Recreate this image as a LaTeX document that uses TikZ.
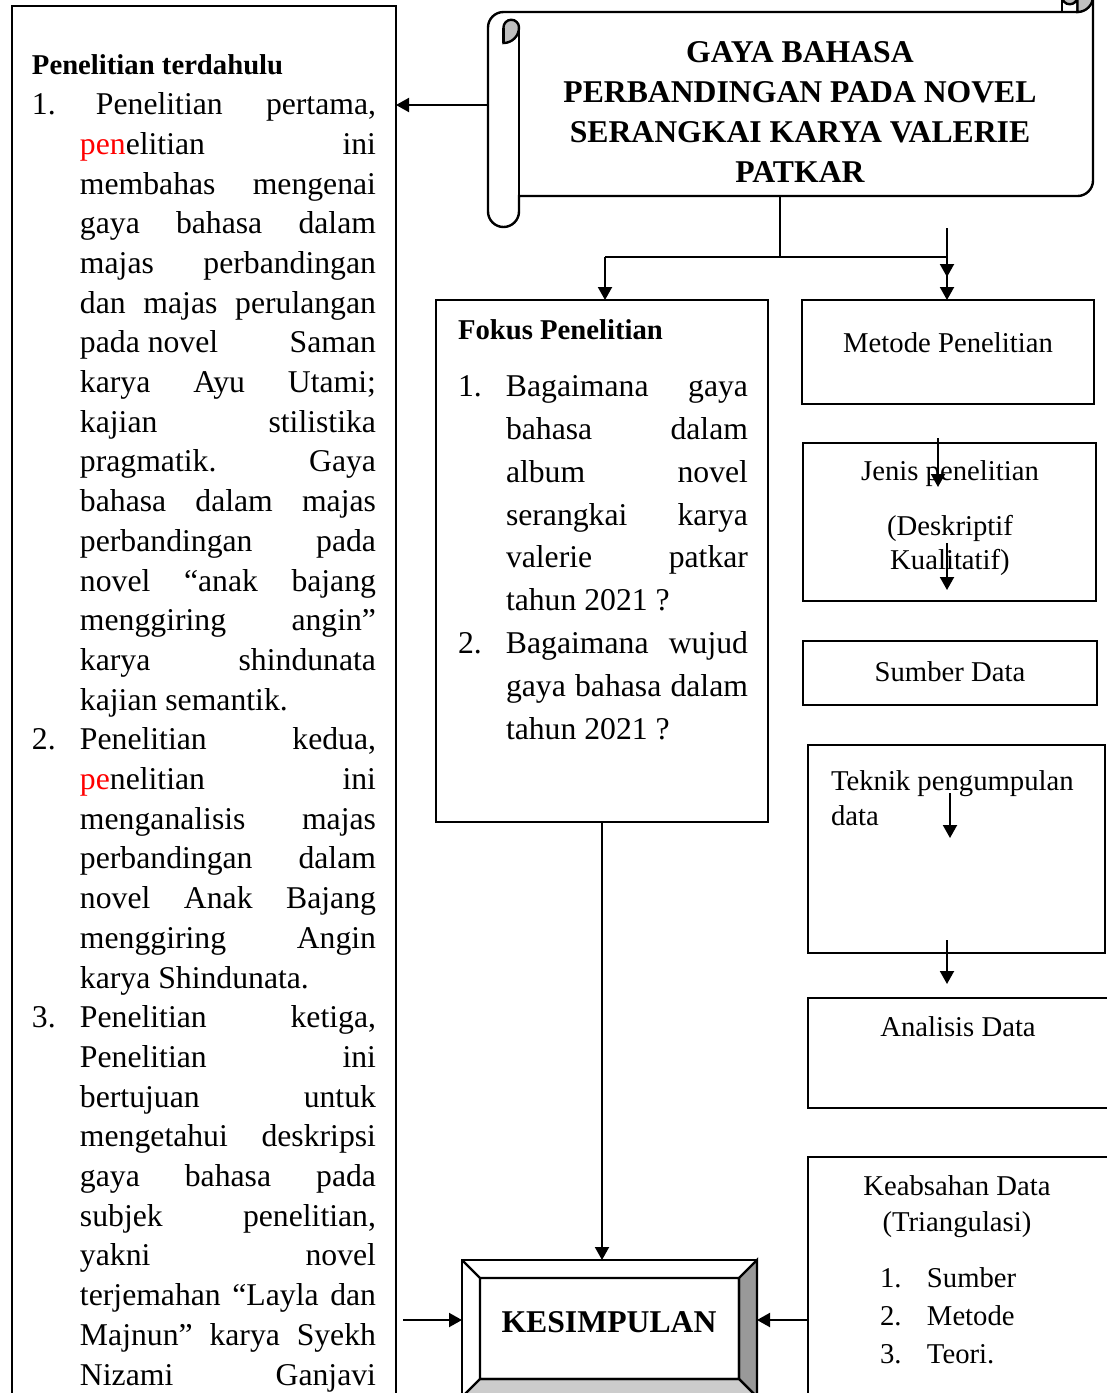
\documentclass[tikz,border=0pt]{standalone}
\usepackage{fontspec}
\setmainfont{Liberation Serif}
\usepackage{xcolor}
\usepackage{tikz}
\usetikzlibrary{calc}
\usetikzlibrary{arrows.meta}
\tikzset{>={Triangle[length=6.5pt,width=7pt]}}
\newcommand{\besar}{\fontsize{15.85}{19.85}\selectfont}
\newcommand{\kecil}{\fontsize{14.35}{17}\selectfont}
\newcommand{\merah}[1]{\textcolor{red}{#1}}
\tikzset{
  kotak/.style={draw,line width=1.2pt,inner sep=0pt,outer sep=0pt},
  teks/.style={inner sep=0pt,outer sep=0pt,font=\kecil},
  panah/.style={->,line width=1pt},
  tipis/.style={line width=0.6pt}
}
\hbadness=10000

\begin{document}
\begin{tikzpicture}[x=0.5pt,y=-0.5pt]
	\useasboundingbox (0,0) rectangle (1107,1393);
	\clip (0,0) rectangle (1107,1393);
	% gulungan judul
	\draw[line width=1.2pt,fill=white] (488,27.5) arc[start angle=180,end angle=90,radius=7.75pt] -- (1077.5,12) -- (1077.5,-3.5)
		arc[start angle=180,end angle=0,radius=3.875pt] -- (1093,180.5)
		arc[start angle=0,end angle=-90,radius=7.75pt] -- (519,196) -- (519,211.5)
		arc[start angle=0,end angle=-180,radius=7.75pt] -- cycle;
	\draw[line width=1.2pt,fill=black!25] (1077.5,12) arc[start angle=-90,end angle=180,radius=7.75pt]
		arc[start angle=180,end angle=360,radius=3.875pt] -- cycle;
	\draw[line width=1.2pt] (1062,-3.5) -- (1062,12);
	\draw[line width=1.2pt,fill=black!25] (503.5,43) arc[start angle=-90,end angle=0,radius=7.75pt]
		arc[start angle=0,end angle=180,radius=3.875pt] -- cycle;
	\draw[line width=1.2pt] (503.5,43) -- (503.5,27.5) (519,27.5) -- (519,196);
	\node[align=center,inner sep=0pt,font={\fontsize{15.85}{20}\selectfont\bfseries}] (judul) at (800,112)
		{GAYA BAHASA\\PERBANDINGAN PADA NOVEL\\SERANGKAI KARYA VALERIE\\PATKAR};
	\coordinate (batangKiri) at (488,105);
	\coordinate (judulBawah) at (780,196);
	\coordinate (cabang) at (780,257);
	\coordinate (cabKiri) at (605,257);
	\coordinate (cabKanan) at (947,257);

	% kotak-kotak
	\node[kotak,minimum width=192pt,minimum height=707pt] (terdahulu) at (204,713) {};
	\node[kotak,minimum width=166pt,minimum height=261pt] (fokus) at (602,561) {};
	\node[kotak,minimum width=146pt,minimum height=52pt] (metode) at (948,352) {};
	\node[kotak,minimum width=146.5pt,minimum height=79pt] (jenis) at (949.5,522) {};
	\node[kotak,minimum width=147pt,minimum height=32pt] (sumber) at (950,673) {};
	\node[kotak,minimum width=148.5pt,minimum height=104pt] (teknik) at (956.5,849) {};
	\node[kotak,minimum width=150.5pt,minimum height=55pt] (analisis) at (958.5,1053) {};
	\node[kotak,minimum width=151pt,minimum height=131.5pt] (keabsahan) at (959,1288.5) {};
	\node[kotak,minimum width=147.5pt,minimum height=68.5pt] (kesimpulan) at (609.5,1328.5) {};
	\draw[line width=1.2pt,fill=black!40] (757,1260) -- (739,1278) -- (739,1379) -- (757,1397) -- cycle;
	\draw[line width=1.2pt,fill=black!20] (462,1397) -- (480,1379) -- (739,1379) -- (757,1397) -- cycle;
	\draw[line width=1.2pt] (462,1260) -- (480,1278) (480,1278) rectangle (739,1379);

	% teks
	\node[teks,anchor=north west,text width=172pt,align=justify] (terdahuluTxt) at (32,55) {%
		{\bfseries Penelitian terdahulu}\par
		\besar\tolerance=10000\hyphenpenalty=10000
		\noindent\hangindent=24pt\hangafter=1\makebox[32pt][l]{1.}Penelitian pertama,\linebreak
		\merah{pen}elitian ini\linebreak membahas mengenai\linebreak gaya bahasa dalam\linebreak
		majas perbandingan\linebreak dan majas perulangan\linebreak pada novel\hfill Saman\linebreak
		karya Ayu Utami;\linebreak kajian stilistika\linebreak pragmatik. Gaya\linebreak
		bahasa dalam majas\linebreak perbandingan pada\linebreak novel “anak bajang\linebreak
		menggiring angin”\linebreak karya shindunata\linebreak kajian semantik.\par
		\noindent\hangindent=24pt\hangafter=1\makebox[24pt][l]{2.}Penelitian kedua,\linebreak
		\merah{pe}nelitian ini\linebreak menganalisis majas\linebreak perbandingan dalam\linebreak
		novel Anak Bajang\linebreak menggiring Angin\linebreak karya Shindunata.\par
		\noindent\hangindent=24pt\hangafter=1\makebox[24pt][l]{3.}Penelitian ketiga,\linebreak
		Penelitian ini\linebreak bertujuan untuk\linebreak mengetahui deskripsi\linebreak
		gaya bahasa pada\linebreak subjek penelitian,\linebreak yakni novel\linebreak
		terjemahan “Layla dan\linebreak Majnun” karya Syekh\linebreak Nizami\hfill Ganjavi\par};
	\node[teks,anchor=north west,text width=145pt,align=justify] (fokusTxt) at (458,320) {%
		{\bfseries Fokus Penelitian}\par\vspace{7pt}
		\fontsize{15.85}{21.4}\selectfont\tolerance=10000\hyphenpenalty=10000
		\noindent\hangindent=24pt\hangafter=1\makebox[24pt][l]{1.}Bagaimana gaya\linebreak
		bahasa dalam\linebreak album novel\linebreak serangkai karya\linebreak valerie patkar\linebreak
		tahun 2021 ?\par
		\noindent\hangindent=24pt\hangafter=1\makebox[24pt][l]{2.}Bagaimana wujud\linebreak
		gaya bahasa dalam\linebreak tahun 2021 ?\par};
	\node[teks] (metodeTxt) at (948,343) {Metode Penelitian};
	\node[teks,align=center] (jenisTxt) at (950,518) {Jenis penelitian\\[10.5pt](Deskriptif\\Kualitatif)};
	\node[teks] (sumberTxt) at (950,672) {Sumber Data};
	\node[teks,anchor=north west,align=left,font={\fontsize{14.35}{17.5}\selectfont}] (teknikTxt) at (831,771) {Teknik pengumpulan\\data};
	\node[teks] (analisisTxt) at (958,1027) {Analisis Data};
	\node[teks,align=center,font={\fontsize{14.35}{18}\selectfont}] (keabsahanTxt) at (957,1207) {Keabsahan Data\\(Triangulasi)};
	\node[teks,anchor=north west,align=left,font={\fontsize{14.35}{19}\selectfont}] (triangulasiTxt) at (880,1268)
		{\makebox[23.5pt][l]{1.}Sumber\\\makebox[23.5pt][l]{2.}Metode\\\makebox[23.5pt][l]{3.}Teori.};
	\node[teks,font={\besar\bfseries}] (kesimpulanTxt) at (609,1322) {KESIMPULAN};

	% panah
	\draw[panah] (batangKiri) -- (batangKiri -| terdahulu.east);
	\draw[tipis] (judulBawah) -- (cabang) (cabKiri) -- (cabKanan);
	\draw[panah] (cabKiri) -- (cabKiri |- fokus.north);
	\draw[panah] (cabKanan) -- (cabKanan |- metode.north);
	\coordinate (lepas1) at (947,228);
	\coordinate (lepas1b) at (947,277);
	\draw[panah] (lepas1) -- (lepas1b);
	\coordinate (lepas2) at (938,438);
	\coordinate (lepas2b) at (938,487);
	\draw[panah] (lepas2) -- (lepas2b);
	\coordinate (lepas3) at (947,543);
	\coordinate (lepas3b) at (947,590);
	\draw[panah] (lepas3) -- (lepas3b);
	\coordinate (lepas4) at (950,793);
	\coordinate (lepas4b) at (950,838);
	\draw[panah] (lepas4) -- (lepas4b);
	\coordinate (lepas5) at (947,940);
	\coordinate (lepas5b) at (947,984);
	\draw[panah] (lepas5) -- (lepas5b);
	\draw[panah] (fokus.south) -- (fokus.south |- kesimpulan.north);
	\coordinate (kesKiri) at (462,1320);
	\coordinate (kesKanan) at (757,1320);
	\draw[panah,shorten <=3.5pt] (kesKiri -| terdahulu.east) -- (kesKiri);
	\draw[panah] (kesKanan -| keabsahan.west) -- (kesKanan);
\end{tikzpicture}
\end{document}
